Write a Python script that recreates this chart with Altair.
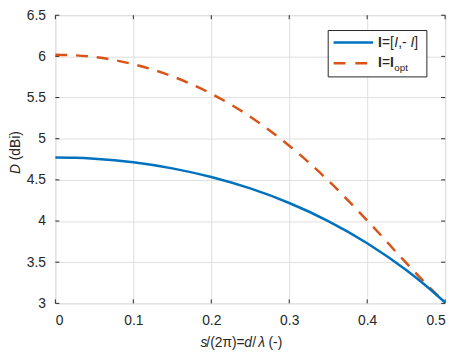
import altair as alt
import pandas as pd

# ---- data ----
x_vals = [0, 0.025, 0.05, 0.1, 0.15, 0.2, 0.25, 0.3, 0.35, 0.4, 0.45, 0.475, 0.5]
d_diff = [4.771, 4.768, 4.757, 4.714, 4.640, 4.535, 4.396, 4.219, 4.000, 3.731, 3.405, 3.217, 3.010]
d_opt = [6.021, 6.013, 5.992, 5.905, 5.758, 5.547, 5.267, 4.915, 4.492, 4.007, 3.492, 3.242, 3.010]
x_ticks = [0, 0.1, 0.2, 0.3, 0.4, 0.5]
y_ticks = [3, 3.5, 4, 4.5, 5, 5.5, 6, 6.5]

W, H = 395, 292
FONT = "Liberation Sans"
INK = "#262626"
BLUE = "#0072BD"
ORANGE = "#D95319"

df = pd.DataFrame({"x": x_vals, "diff": d_diff, "opt": d_opt})
dxt = pd.DataFrame({"v": x_ticks})
dyt = pd.DataFrame({"v": y_ticks})
dummy = pd.DataFrame({"a": [0]})

xs = alt.Scale(domain=[0, 0.5], nice=False, zero=False)
ys = alt.Scale(domain=[3, 6.5], nice=False, zero=False)
ax_common = dict(grid=True, gridColor="#dedede", gridWidth=1, domain=False, ticks=False,
                 labelFontSize=14, labelFont=FONT, labelColor=INK, labelPadding=10,
                 title=None, format="~g")
xaxis = alt.Axis(values=x_ticks, **ax_common)
yaxis = alt.Axis(values=y_ticks, **ax_common)


def X(field):
    return alt.X(field, type="quantitative", scale=xs, axis=xaxis)


def Y(field):
    return alt.Y(field, type="quantitative", scale=ys, axis=yaxis)


layers = []

# inward ticks on all four sides
layers.append(alt.Chart(dxt).mark_rule(color=INK, strokeWidth=1).encode(
    x=X("v"), y=alt.value(H), y2=alt.value(H - 4)))
layers.append(alt.Chart(dxt).mark_rule(color=INK, strokeWidth=1).encode(
    x=X("v"), y=alt.value(0), y2=alt.value(4)))
layers.append(alt.Chart(dyt).mark_rule(color=INK, strokeWidth=1).encode(
    y=Y("v"), x=alt.value(0), x2=alt.value(4)))
layers.append(alt.Chart(dyt).mark_rule(color=INK, strokeWidth=1).encode(
    y=Y("v"), x=alt.value(W), x2=alt.value(W - 4)))

# data lines
layers.append(alt.Chart(df).mark_line(color=ORANGE, strokeWidth=2.5, strokeDash=[12, 9],
                                      interpolate="monotone").encode(x=X("x"), y=Y("opt")))
layers.append(alt.Chart(df).mark_line(color=BLUE, strokeWidth=2.5,
                                      interpolate="monotone").encode(x=X("x"), y=Y("diff")))


def txt(s, x, y, style="normal", weight="normal", size=14, angle=0,
        align="left", baseline="alphabetic"):
    return alt.Chart(dummy).mark_text(
        text=s, fontStyle=style, fontWeight=weight, fontSize=size, angle=angle,
        align=align, baseline=baseline, font=FONT, color=INK
    ).encode(x=alt.value(x), y=alt.value(y))


# x title: s/(2π)=d/λ (-)
xb = 336
layers += [
    txt("s", 147, xb, style="italic"),
    txt("/(2\u03c0)=", 153, xb),
    txt("d", 191.5, xb, style="italic"),
    txt("/", 199.5, xb),
    txt("\u03bb", 205.5, xb, style="italic"),
    txt("(-)", 216, xb),
]

# y title: D (dBi)
layers += [
    txt("D", -39.5, 161, style="italic", angle=270, baseline="middle"),
    txt("(dBi)", -39.5, 147, angle=270, baseline="middle"),
]

# legend box
layers.append(alt.Chart(dummy).mark_rect(fill="white", stroke=INK, strokeWidth=1).encode(
    x=alt.value(276.5), x2=alt.value(376.5), y=alt.value(15.5), y2=alt.value(62.5)))
layers.append(alt.Chart(dummy).mark_rule(color=BLUE, strokeWidth=2.5).encode(
    x=alt.value(282), x2=alt.value(322), y=alt.value(27.7)))
layers.append(alt.Chart(dummy).mark_rule(color=ORANGE, strokeWidth=2.5, strokeDash=[12, 10]).encode(
    x=alt.value(282), x2=alt.value(322), y=alt.value(48.7)))

r1 = 32.7
r2 = 52.2
layers += [
    txt("I", 327, r1, weight="bold"),
    txt("=[", 331, r1),
    txt("I", 343.5, r1, style="italic"),
    txt(",- ", 347.4, r1),
    txt("I", 359.8, r1, style="italic"),
    txt("]", 363.7, r1),
    txt("I", 327, r2, weight="bold"),
    txt("=", 331, r2),
    txt("I", 339.2, r2, weight="bold"),
    txt("opt", 343.5, 56.5, size=10),
]

chart = alt.layer(*layers).properties(
    width=W, height=H,
    autosize=alt.AutoSizeParams(type="none"),
    padding={"left": 48, "top": 5, "right": 10, "bottom": 49},
).configure_view(stroke=INK, strokeWidth=1).configure(background="white")

chart.save("out.html", embed_options={"renderer": "svg", "actions": False})
